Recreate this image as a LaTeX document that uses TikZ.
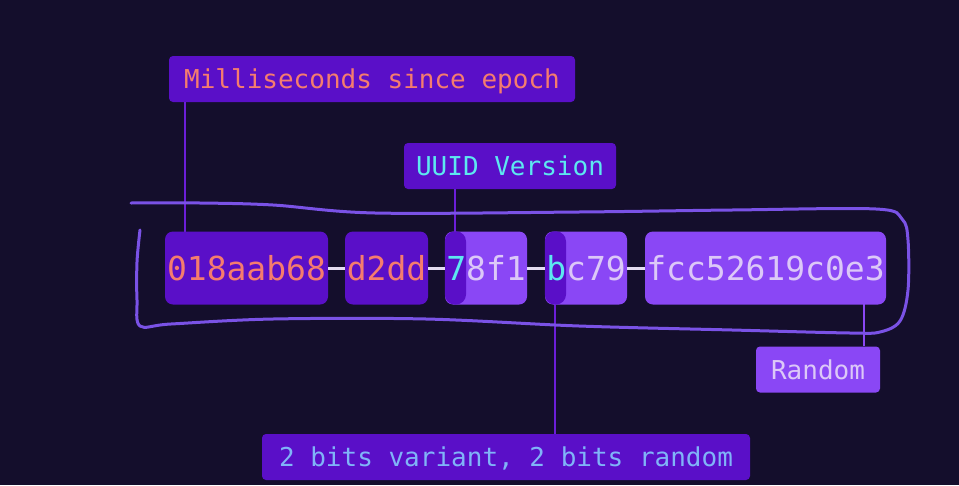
\documentclass[tikz,border=0pt]{standalone}
\usepackage{fontspec}
\setmonofont{DejaVu Sans Mono}
\definecolor{bgc}{HTML}{140E2C}
\definecolor{darkbox}{HTML}{5A0FC8}
\definecolor{lightbox}{HTML}{8A47F5}
\definecolor{salmon}{HTML}{F57C6E}
\definecolor{cyanx}{HTML}{5DE8F0}
\definecolor{lav}{HTML}{DCC8F8}
\definecolor{bluetext}{HTML}{80B4F8}
\definecolor{loopc}{HTML}{7A52E6}
\definecolor{leader}{HTML}{6C1ED8}
\definecolor{dashc}{HTML}{E4DCF2}
\tikzset{
  lbl/.style={rounded corners=4pt, inner sep=0pt, text height=19pt, text depth=0pt,
    minimum height=46pt, font=\ttfamily\fontsize{26}{26}\selectfont},
  hexbox/.style={rounded corners=8pt, inner sep=0pt, minimum height=73pt,
    text height=24pt, text depth=0pt, font=\ttfamily\fontsize{33}{33}\selectfont},
  leadline/.style={draw=leader, line width=2.5pt},
  dashline/.style={draw=dashc, line width=3pt},
  handloop/.style={draw=loopc, line width=3pt, line cap=round, line join=round}
}
\begin{document}
\begin{tikzpicture}[x=1pt,y=-1pt]
\useasboundingbox (0,0) rectangle (959,485);
\fill[bgc] (0,0) rectangle (959,485);

% labels
\node[lbl, fill=darkbox, text=salmon, minimum width=406pt] (ms) at (372,79) {Milliseconds since epoch};
\node[lbl, fill=darkbox, text=cyanx, minimum width=212pt] (ver) at (510,166) {UUID Version};
\node[lbl, fill=lightbox, text=lav, minimum width=124pt] (rnd) at (818,369.5) {Random};
\node[lbl, fill=darkbox, text=bluetext, minimum width=488pt] (var) at (506,457) {2 bits variant, 2 bits random};

% leader lines
\draw[leadline] (ms.south -| 185,0) -- (185,232) coordinate (l1);
\draw[leadline] (ver.south -| 455,0) -- (455,232) coordinate (l2);
\draw[leadline] (var.north -| 555,0) -- (555,304) coordinate (l3);
\draw[draw=lightbox, line width=2.5pt] (rnd.north -| 864,0) -- (864,304) coordinate (l4);

% hex boxes
\node[hexbox, fill=darkbox, minimum width=163pt] (b1) at (246.5,268) {\color{salmon}018aab68};
\node[hexbox, fill=darkbox, minimum width=83pt] (b2) at (386.5,268) {\color{salmon}d2dd};
\node[hexbox, fill=lightbox, minimum width=82pt] (b3) at (486,268) {};
\fill[darkbox, rounded corners=10pt] (b3.north west) rectangle (466,304.5);
\node[font=\ttfamily\fontsize{33}{33}\selectfont, inner sep=0pt, text height=24pt, text depth=0pt] (t3) at (b3.center) {\color{cyanx}7\color{lav}8f1};
\node[hexbox, fill=lightbox, minimum width=82pt] (b4) at (586,268) {};
\fill[darkbox, rounded corners=10pt] (b4.north west) rectangle (566,304.5);
\node[font=\ttfamily\fontsize{33}{33}\selectfont, inner sep=0pt, text height=24pt, text depth=0pt] (t4) at (b4.center) {\color{cyanx}b\color{lav}c79};
\node[hexbox, fill=lightbox, minimum width=241pt] (b5) at (765.5,268) {\color{lav}fcc52619c0e3};

% dashes
\draw[dashline] (b1.east) -- (b2.west);
\draw[dashline] (b2.east) -- (b3.west);
\draw[dashline] (b3.east) -- (b4.west);
\draw[dashline] (b4.east) -- (b5.west);

% hand-drawn loop
\draw[handloop] plot[smooth, tension=0.55] coordinates {
  (140,230) (137,262) (137,300) (140,326) (171,324) (273,319) (426,319)
  (579,326) (732,330) (850,333) (880,332) (900,321) (908,290) (908,240)
  (902,219) (876,209) (732,210) (579,212) (375,213) (273,205) (200,203) (131,203)};
\end{tikzpicture}
\end{document}
